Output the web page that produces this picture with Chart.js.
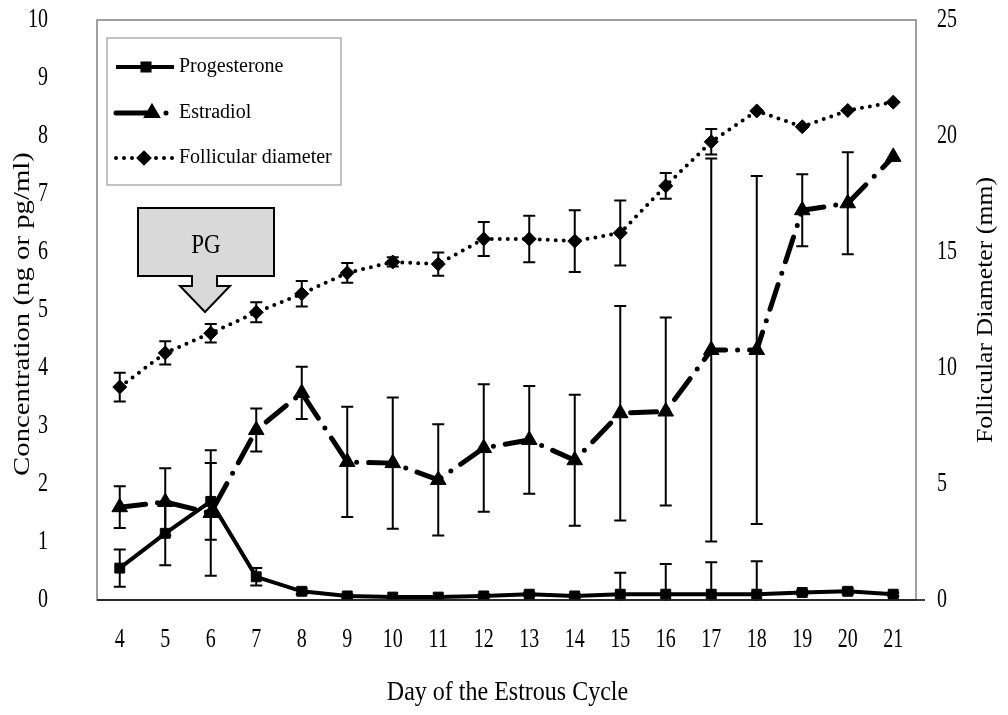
<!DOCTYPE html>
<html>
<head>
<meta charset="utf-8">
<script src="https://cdn.jsdelivr.net/npm/chart.js@4.4.1/dist/chart.umd.min.js"></script>
<style>
html,body{margin:0;padding:0;background:#fff;}
#wrap{position:relative;width:1008px;height:715px;}
</style>
</head>
<body>
<div id="wrap"><canvas id="c" width="1008" height="715"></canvas></div>
<script>
const days = ['4','5','6','7','8','9','10','11','12','13','14','15','16','17','18','19','20','21'];
const progesterone    = [0.55,1.15,1.70,0.40,0.15,0.07,0.05,0.05,0.07,0.10,0.07,0.10,0.10,0.10,0.10,0.13,0.15,0.10];
const progesteroneErr = [0.32,0.55,0.66,0.15,0.05,0.03,0.02,0.02,0.03,0.03,0.03,0.37,0.52,0.55,0.57,0.04,0.05,0.03];
const estradiol       = [1.60,1.69,1.50,2.93,3.57,2.38,2.36,2.07,2.62,2.76,2.41,3.22,3.25,4.31,4.31,6.72,6.84,7.64];
const estradiolErr    = [0.36,0.58,1.08,0.37,0.45,0.95,1.13,0.96,1.10,0.93,1.13,1.85,1.62,3.30,3.00,0.62,0.88,0];
const follicle        = [9.18,10.65,11.5,12.4,13.2,14.1,14.57,14.48,15.56,15.56,15.47,15.82,17.85,19.75,21.08,20.4,21.1,21.46];
const follicleErr     = [0.62,0.50,0.40,0.43,0.55,0.43,0.20,0.50,0.73,1.00,1.33,1.40,0.55,0.55,0,0,0,0];
const leftTicks = [0,1,2,3,4,5,6,7,8,9,10];
const rightTicks = [0,5,10,15,20,25];
const xTitle = 'Day of the Estrous Cycle';
const leftTitle = 'Concentration (ng or pg/ml)';
const rightTitle = 'Follicular Diameter (mm)';
const serif = "'Liberation Serif','DejaVu Serif',serif";

const errorBars = {
  id:'errorBars',
  afterDatasetsDraw(chart){
    const ctx = chart.ctx, a = chart.chartArea;
    ctx.save();
    ctx.beginPath(); ctx.rect(a.left, a.top, a.right-a.left, a.bottom-a.top+1); ctx.clip();
    ctx.strokeStyle = '#000'; ctx.lineWidth = 2;
    chart.data.datasets.forEach((ds, i) => {
      const meta = chart.getDatasetMeta(i);
      const ys = chart.scales[ds.yAxisID];
      ds.data.forEach((v, j) => {
        const e = ds.errors[j]; if (!e) return;
        const x = meta.data[j].x;
        const y1 = ys.getPixelForValue(v + e), y2 = ys.getPixelForValue(v - e);
        ctx.beginPath();
        ctx.moveTo(x, y1); ctx.lineTo(x, y2);
        ctx.moveTo(x-6, y1); ctx.lineTo(x+6, y1);
        ctx.moveTo(x-6, y2); ctx.lineTo(x+6, y2);
        ctx.stroke();
      });
    });
    ctx.restore();
  }
};

// text drawn with the slightly tall/narrow proportions of the original figure
function stretchedText(ctx, text, x, y, size, sy, align, rot){
  ctx.save();
  ctx.translate(x, y);
  if (rot) ctx.rotate(rot);
  if (rot) ctx.scale(sy, 1); else ctx.scale(1, sy);
  ctx.font = size + 'px ' + serif;
  ctx.fillStyle = '#000';
  ctx.textAlign = align; ctx.textBaseline = 'middle';
  ctx.fillText(text, 0, 0);
  ctx.restore();
}

const axisText = {
  id:'axisText',
  afterDraw(chart){
    const ctx = chart.ctx, a = chart.chartArea;
    const sx = chart.scales.x, sy = chart.scales.y, sy2 = chart.scales.y2;
    leftTicks.forEach(v => stretchedText(ctx, String(v), 48, sy.getPixelForValue(v), 20, 1.35, 'right'));
    rightTicks.forEach(v => stretchedText(ctx, String(v), 937, sy2.getPixelForValue(v), 20, 1.35, 'left'));
    days.forEach((d, i) => stretchedText(ctx, d, sx.getPixelForValue(i), 640, 20, 1.35, 'center'));
    stretchedText(ctx, xTitle, (a.left + a.right)/2 + 1, 693, 24, 1.1, 'center');
    stretchedText(ctx, leftTitle, 23, 314, 24, 1.2, 'center', -Math.PI/2);
    stretchedText(ctx, rightTitle, 986, 310, 23, 1.12, 'center', -Math.PI/2);
  }
};

const decor = {
  id:'decor',
  afterDraw(chart){
    const ctx = chart.ctx, a = chart.chartArea;
    ctx.save();
    ctx.strokeStyle = '#808080'; ctx.lineWidth = 1.5;
    ctx.strokeRect(a.left, a.top, a.right-a.left, a.bottom-a.top);
    ctx.strokeStyle = '#000'; ctx.lineWidth = 1.5;
    ctx.beginPath(); ctx.moveTo(a.left, a.bottom); ctx.lineTo(a.right+9, a.bottom); ctx.stroke();
    // legend box
    ctx.fillStyle = '#fff';
    ctx.strokeStyle = '#9a9a9a'; ctx.lineWidth = 1.2;
    ctx.fillRect(107, 38, 234, 147);
    ctx.strokeRect(107, 38, 234, 147);
    const rows = [67, 113, 158];
    chart.data.datasets.forEach((ds, i) => {
      const y = rows[i];
      ctx.save();
      ctx.strokeStyle = '#000';
      ctx.lineWidth = ds.borderWidth;
      ctx.lineCap = ds.borderCapStyle || 'butt';
      ctx.setLineDash(ds.legendDash || []);
      ctx.beginPath(); ctx.moveTo(116, y); ctx.lineTo(174, y); ctx.stroke();
      ctx.restore();
      ctx.fillStyle = '#000'; ctx.strokeStyle = '#000';
      Chart.helpers.drawPoint(ctx, {pointStyle: ds.pointStyle, radius: ds.pointRadius, rotation: 0, borderWidth: 1}, ds.legendMarkerX, y);
      ctx.fillStyle = '#000';
      ctx.font = "20px " + serif;
      ctx.textBaseline = 'middle'; ctx.textAlign = 'left';
      ctx.fillText(ds.label, 179, y);
    });
    // PG arrow
    ctx.fillStyle = '#d9d9d9'; ctx.strokeStyle = '#000'; ctx.lineWidth = 2;
    ctx.beginPath();
    ctx.moveTo(138, 208); ctx.lineTo(274, 208); ctx.lineTo(274, 276);
    ctx.lineTo(217, 276); ctx.lineTo(217, 286); ctx.lineTo(230, 286);
    ctx.lineTo(205, 312); ctx.lineTo(180, 286); ctx.lineTo(192, 286);
    ctx.lineTo(192, 276); ctx.lineTo(138, 276); ctx.closePath();
    ctx.fill(); ctx.stroke();
    ctx.restore();
    stretchedText(ctx, 'PG', 206, 246, 23, 1.15, 'center');
  }
};

new Chart(document.getElementById('c'), {
  type:'line',
  data:{
    labels: days,
    datasets:[
      {label:'Progesterone', data: progesterone, errors: progesteroneErr, yAxisID:'y',
       borderColor:'#000', backgroundColor:'#000', borderWidth:4,
       pointStyle:'rect', pointRadius:7, pointBorderWidth:1, legendMarkerX:146, order:1},
      {label:'Estradiol', data: estradiol, errors: estradiolErr, yAxisID:'y',
       borderColor:'#000', backgroundColor:'#000', borderWidth:5, borderCapStyle:'round',
       borderDash:[26,12,0,12], legendDash:[32,18,0,40],
       pointStyle:'triangle', pointRadius:9, pointBorderWidth:1, legendMarkerX:152, order:2},
      {label:'Follicular diameter', data: follicle, errors: follicleErr, yAxisID:'y2',
       borderColor:'#000', backgroundColor:'#000', borderWidth:4, borderCapStyle:'round',
       borderDash:[0,8], legendDash:[0,8],
       pointStyle:'rectRot', pointRadius:7, pointBorderWidth:1, legendMarkerX:144, order:3}
    ]
  },
  options:{
    responsive:false, animation:false,
    layout:{padding:{top:20, left:0, right:0, bottom:0}},
    plugins:{legend:{display:false}, tooltip:{enabled:false}},
    scales:{
      x:{
        offset:true,
        grid:{display:false, drawTicks:false},
        border:{display:false},
        ticks:{display:false, autoSkip:false},
        title:{display:false, text:xTitle},
        afterFit(s){ s.height = 115; }
      },
      y:{
        position:'left', min:0, max:10,
        afterBuildTicks(s){ s.ticks = leftTicks.map(v=>({value:v})); },
        grid:{display:false, drawTicks:false},
        border:{display:false},
        ticks:{display:false},
        title:{display:false, text:leftTitle},
        afterFit(s){ s.width = 97; s.paddingTop = 0; s.paddingBottom = 0; }
      },
      y2:{
        position:'right', min:0, max:25,
        afterBuildTicks(s){ s.ticks = rightTicks.map(v=>({value:v})); },
        grid:{display:false, drawTicks:false},
        border:{display:false},
        ticks:{display:false},
        title:{display:false, text:rightTitle},
        afterFit(s){ s.width = 92; s.paddingTop = 0; s.paddingBottom = 0; }
      }
    }
  },
  plugins:[errorBars, decor, axisText]
});
</script>
</body>
</html>
